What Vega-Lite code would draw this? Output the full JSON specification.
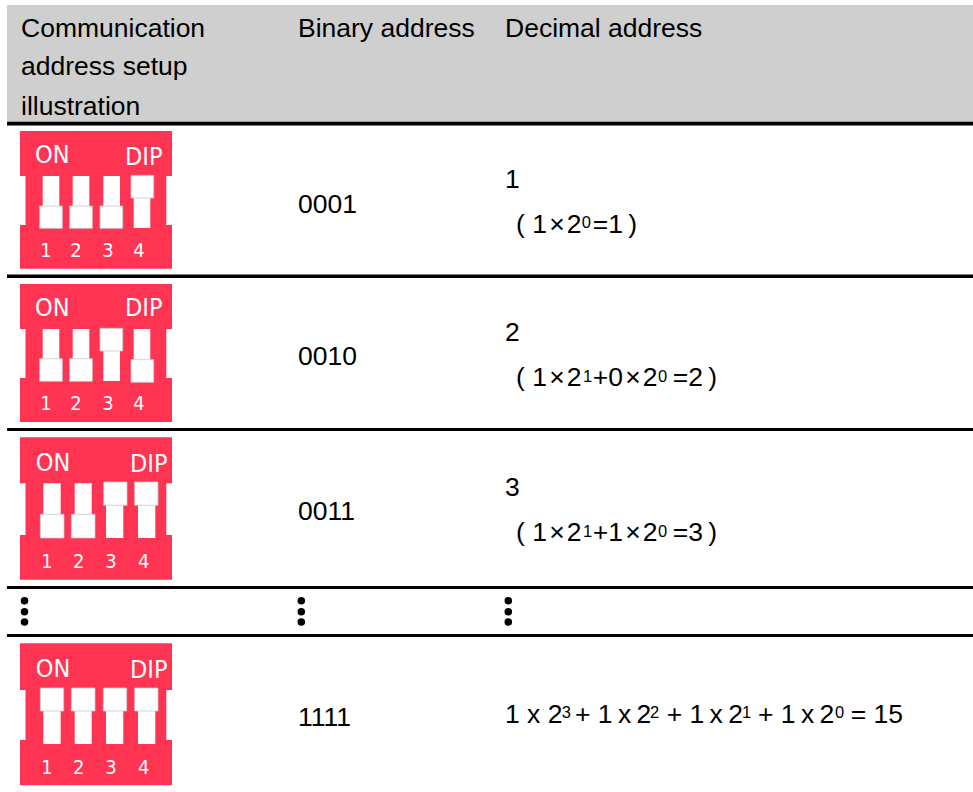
{"$schema":"https://vega.github.io/schema/vega-lite/v6.json","autosize":{"type":"fit","contains":"padding"},"width":973,"height":792,"padding":0,"background":"white","config":{"view":{"stroke":null}},
"datasets":{
"boxes":[
{"part":"header","x0":7,"x1":973,"y0":5,"y1":122},
{"part":"rule","x0":7,"x1":973,"y0":121.7,"y1":125.5},
{"part":"rule","x0":7,"x1":973,"y0":274.5,"y1":278},
{"part":"rule","x0":7,"x1":973,"y0":428,"y1":431},
{"part":"rule","x0":7,"x1":973,"y0":586,"y1":589},
{"part":"rule","x0":7,"x1":973,"y0":634,"y1":637},

{"part":"body","x0":20,"x1":172,"y0":131,"y1":268.7},
{"part":"slot","x0":20,"x1":25.5,"y0":176,"y1":225},
{"part":"slot","x0":166.3,"x1":172,"y0":176,"y1":225},
{"part":"slot","x0":42.7,"x1":59.3,"y0":176,"y1":228},
{"part":"slot","x0":72.7,"x1":89.3,"y0":176,"y1":228},
{"part":"slot","x0":103.3,"x1":120,"y0":176,"y1":228},
{"part":"slot","x0":133.7,"x1":150.3,"y0":176,"y1":228},
{"part":"knob","x0":39.7,"x1":62.3,"y0":206,"y1":228.3},
{"part":"knob","x0":69.7,"x1":92.3,"y0":206,"y1":228.3},
{"part":"knob","x0":100,"x1":122.7,"y0":206,"y1":228.3},
{"part":"knob","x0":131,"x1":153.7,"y0":175.3,"y1":198},

{"part":"body","x0":20,"x1":172,"y0":284,"y1":422},
{"part":"slot","x0":20,"x1":25.5,"y0":329,"y1":378},
{"part":"slot","x0":166.3,"x1":172,"y0":329,"y1":378},
{"part":"slot","x0":42.7,"x1":59.3,"y0":329,"y1":381},
{"part":"slot","x0":72.7,"x1":89.3,"y0":329,"y1":381},
{"part":"slot","x0":103.3,"x1":120,"y0":329,"y1":381},
{"part":"slot","x0":133.7,"x1":150.3,"y0":329,"y1":381},
{"part":"knob","x0":39.7,"x1":62.3,"y0":358.7,"y1":381.3},
{"part":"knob","x0":69.7,"x1":92.3,"y0":358.7,"y1":381.3},
{"part":"knob","x0":100,"x1":122.7,"y0":328.3,"y1":351},
{"part":"knob","x0":131,"x1":153.7,"y0":359.7,"y1":382.3},

{"part":"body","x0":20,"x1":172,"y0":437.3,"y1":579.7},
{"part":"slot","x0":20,"x1":25.5,"y0":483.3,"y1":535},
{"part":"slot","x0":166.3,"x1":172,"y0":483.3,"y1":535},
{"part":"slot","x0":43.3,"x1":60.7,"y0":483.3,"y1":538},
{"part":"slot","x0":74.7,"x1":91.7,"y0":483.3,"y1":538},
{"part":"slot","x0":106,"x1":123.3,"y0":483.3,"y1":538},
{"part":"slot","x0":138,"x1":155.3,"y0":483.3,"y1":538},
{"part":"knob","x0":40.3,"x1":64,"y0":514.3,"y1":538},
{"part":"knob","x0":71.3,"x1":95,"y0":514.3,"y1":538},
{"part":"knob","x0":103.7,"x1":127,"y0":482,"y1":505.3},
{"part":"knob","x0":134.7,"x1":158,"y0":482,"y1":505.3},

{"part":"body","x0":20,"x1":172,"y0":643.3,"y1":785.3},
{"part":"slot","x0":20,"x1":25.5,"y0":690,"y1":740},
{"part":"slot","x0":166.3,"x1":172,"y0":690,"y1":740},
{"part":"slot","x0":43.3,"x1":60.7,"y0":690,"y1":744},
{"part":"slot","x0":74.7,"x1":91.7,"y0":690,"y1":744},
{"part":"slot","x0":106,"x1":123.3,"y0":690,"y1":744},
{"part":"slot","x0":138,"x1":155.3,"y0":690,"y1":744},
{"part":"knob","x0":40.3,"x1":63.7,"y0":688,"y1":711},
{"part":"knob","x0":71.3,"x1":95,"y0":688,"y1":711},
{"part":"knob","x0":103.3,"x1":126.7,"y0":688,"y1":711},
{"part":"knob","x0":134.7,"x1":158,"y0":688,"y1":711}
],
"labels":[
{"t":"Communication","x":21,"y":36.7},{"t":"address setup","x":21,"y":75},{"t":"illustration","x":21,"y":115},{"t":"Binary address","x":298,"y":36.7},{"t":"Decimal address","x":505,"y":36.7},
{"t":"0001","x":298,"y":212.5},{"t":"0010","x":298,"y":365},{"t":"0011","x":298,"y":520},{"t":"1111","x":298,"y":726},
{"t":"1","x":505,"y":187.7},{"t":"( 1\u200a×\u200a2","x":516,"y":232.7},{"t":"=1\u2009)","x":592.7,"y":232.7},
{"t":"2","x":505,"y":340.7},{"t":"( 1\u200a×\u200a2","x":516,"y":385.7},{"t":"+0\u200a×\u200a2","x":592.7,"y":385.7},{"t":"=2\u2009)","x":672.7,"y":385.7},
{"t":"3","x":505,"y":496},{"t":"( 1\u200a×\u200a2","x":516,"y":541},{"t":"+1\u200a×\u200a2","x":592.7,"y":541},{"t":"=3\u2009)","x":672.7,"y":541},
{"t":"1 x 2","x":505,"y":722.7},{"t":"+ 1\u2009x\u20092","x":575,"y":722.7},{"t":"+ 1\u2009x\u20092","x":666.7,"y":722.7},{"t":"+ 1\u2009x\u20092","x":758,"y":722.7},{"t":"= 15","x":850.7,"y":722.7}
],
"sups":[
{"t":"0","x":581.7,"y":228},
{"t":"1","x":583,"y":381.5},{"t":"0","x":658,"y":381.5},
{"t":"1","x":583,"y":537},{"t":"0","x":658,"y":537},
{"t":"3","x":561.7,"y":718},{"t":"2","x":650,"y":718},{"t":"1","x":742,"y":718},{"t":"0","x":835,"y":718}
],
"dipTitles":[
{"t":"ON","x":35,"y":163.3},{"t":"DIP","x":125,"y":165},
{"t":"ON","x":35,"y":316.3},{"t":"DIP","x":125,"y":316.3},
{"t":"ON","x":35.7,"y":470.7},{"t":"DIP","x":130,"y":472},
{"t":"ON","x":35.7,"y":676.7},{"t":"DIP","x":130,"y":678}
],
"dipNumbers":[
{"t":"1","x":46,"y":257.3},{"t":"2","x":76,"y":257.3},{"t":"3","x":108,"y":257.3},{"t":"4","x":139,"y":257.3},
{"t":"1","x":46,"y":410.3},{"t":"2","x":76,"y":410.3},{"t":"3","x":108,"y":410.3},{"t":"4","x":139,"y":410.3},
{"t":"1","x":47,"y":567.7},{"t":"2","x":78.7,"y":567.7},{"t":"3","x":111,"y":567.7},{"t":"4","x":143.7,"y":567.7},
{"t":"1","x":47,"y":774},{"t":"2","x":78.7,"y":774},{"t":"3","x":111,"y":774},{"t":"4","x":143.7,"y":774}
],
"dots":[
{"x":24.5,"y":600.7},{"x":24.5,"y":611.7},{"x":24.5,"y":622},
{"x":301.3,"y":600.7},{"x":301.3,"y":611.7},{"x":301.3,"y":622},
{"x":508.3,"y":600.7},{"x":508.3,"y":611.7},{"x":508.3,"y":622}
]},
"layer":[
{"data":{"name":"boxes"},"mark":{"type":"rect"},"encoding":{
"x":{"field":"x0","type":"quantitative","scale":{"domain":[0,973],"nice":false,"zero":false},"axis":null},
"x2":{"field":"x1"},
"y":{"field":"y0","type":"quantitative","scale":{"domain":[792,0],"nice":false,"zero":false},"axis":null},
"y2":{"field":"y1"},
"color":{"field":"part","type":"nominal","scale":{"domain":["header","rule","body","slot","knob"],"range":["#cfcfcf","#000000","#ff3352","#ffffff","#ffffff"]},"legend":null}}},
{"data":{"name":"boxes"},"transform":[{"filter":"datum.part === 'knob'"}],"mark":{"type":"rect","fillOpacity":0,"stroke":"#c8c8c8","strokeWidth":0.8},"encoding":{
"x":{"field":"x0","type":"quantitative","scale":{"domain":[0,973],"nice":false,"zero":false},"axis":null},
"x2":{"field":"x1"},
"y":{"field":"y0","type":"quantitative","scale":{"domain":[792,0],"nice":false,"zero":false},"axis":null},
"y2":{"field":"y1"}}},
{"data":{"name":"dots"},"mark":{"type":"point","shape":"circle","filled":true,"color":"#000000","opacity":1,"size":57},"encoding":{
"x":{"field":"x","type":"quantitative","scale":{"domain":[0,973],"nice":false,"zero":false},"axis":null},
"y":{"field":"y","type":"quantitative","scale":{"domain":[792,0],"nice":false,"zero":false},"axis":null}}},
{"data":{"name":"labels"},"mark":{"type":"text","align":"left","baseline":"alphabetic","font":"Liberation Sans","fontSize":26.5,"color":"#000000"},"encoding":{
"x":{"field":"x","type":"quantitative","scale":{"domain":[0,973],"nice":false,"zero":false},"axis":null},
"y":{"field":"y","type":"quantitative","scale":{"domain":[792,0],"nice":false,"zero":false},"axis":null},
"text":{"field":"t"}}},
{"data":{"name":"sups"},"mark":{"type":"text","align":"left","baseline":"alphabetic","font":"Liberation Sans","fontSize":16.5,"color":"#000000"},"encoding":{
"x":{"field":"x","type":"quantitative","scale":{"domain":[0,973],"nice":false,"zero":false},"axis":null},
"y":{"field":"y","type":"quantitative","scale":{"domain":[792,0],"nice":false,"zero":false},"axis":null},
"text":{"field":"t"}}},
{"data":{"name":"dipTitles"},"mark":{"type":"text","align":"left","baseline":"alphabetic","font":"DejaVu Sans Condensed, DejaVu Sans","fontSize":25,"color":"#ffffff"},"encoding":{
"x":{"field":"x","type":"quantitative","scale":{"domain":[0,973],"nice":false,"zero":false},"axis":null},
"y":{"field":"y","type":"quantitative","scale":{"domain":[792,0],"nice":false,"zero":false},"axis":null},
"text":{"field":"t"}}},
{"data":{"name":"dipNumbers"},"mark":{"type":"text","align":"center","baseline":"alphabetic","font":"DejaVu Sans Condensed, DejaVu Sans","fontSize":20,"color":"#ffffff"},"encoding":{
"x":{"field":"x","type":"quantitative","scale":{"domain":[0,973],"nice":false,"zero":false},"axis":null},
"y":{"field":"y","type":"quantitative","scale":{"domain":[792,0],"nice":false,"zero":false},"axis":null},
"text":{"field":"t"}}}
]}
